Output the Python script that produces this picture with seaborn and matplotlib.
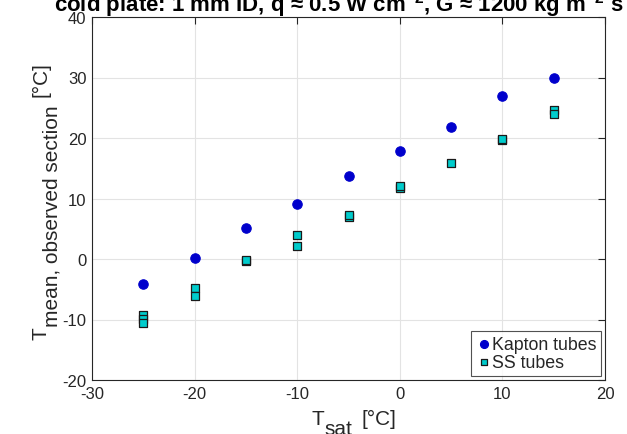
import numpy as np
import pandas as pd
import matplotlib
matplotlib.use("Agg")
import matplotlib.pyplot as plt
import seaborn as sns

kapton_tsat = [-25, -20, -15, -10, -5, 0, 5, 10, 15]
kapton_tmean = [-4.1, 0.2, 5.1, 9.1, 13.8, 17.9, 21.8, 26.9, 29.9]

ss_tsat = [-25, -25, -25, -20, -20, -15, -15, -10, -10, -5, -5, 0, 0, 5, 10, 10, 15, 15]
ss_tmean = [-9.3, -9.9, -10.5, -4.8, -6.1, -0.4, -0.1, 3.9, 2.2, 6.9, 7.2, 11.8, 12.0, 15.9, 19.6, 19.8, 24.6, 23.9]

xticks = [-30, -20, -10, 0, 10, 20]
yticks = [-20, -10, 0, 10, 20, 30, 40]

sns.set_style("white")
plt.rcParams['font.family'] = ['Liberation Sans', 'DejaVu Sans']
plt.rcParams['mathtext.fontset'] = 'custom'
plt.rcParams['mathtext.rm'] = 'Liberation Sans'
plt.rcParams['mathtext.it'] = 'Liberation Sans'
plt.rcParams['mathtext.bf'] = 'Liberation Sans:bold'
plt.rcParams['axes.unicode_minus'] = False

W, H = 627, 435
fig = plt.figure(figsize=(W / 100, H / 100), dpi=100)
ax = fig.add_axes([92 / W, 54 / H, 513 / W, 363 / H])

dk = pd.DataFrame({"x": kapton_tsat, "y": kapton_tmean})
ds = pd.DataFrame({"x": ss_tsat, "y": ss_tmean})

sns.scatterplot(data=dk, x="x", y="y", ax=ax, marker="o", s=46, color="#0000CC",
                edgecolor="#0000CC", linewidth=0.8, label="Kapton tubes", zorder=3)
sns.scatterplot(data=ds, x="x", y="y", ax=ax, marker="s", s=34, color="#00CCCC",
                edgecolor="#1a1a1a", linewidth=0.9, label="SS tubes", zorder=3)

ax.set_xlim(-30, 20)
ax.set_ylim(-20, 40)
ax.set_xticks(xticks)
ax.set_yticks(yticks)
ax.grid(True, color="#E3E3E3", linewidth=0.8)
ax.set_axisbelow(True)
for sp in ax.spines.values():
    sp.set_visible(True)
    sp.set_color("#262626")
    sp.set_linewidth(0.8)
ax.tick_params(direction="in", length=5, width=0.8, colors="#262626", labelsize=12,
               top=True, right=True, labeltop=False, labelright=False, pad=4)
ax.set_xlabel("")
ax.set_ylabel("")

ax.set_title(r"cold plate: 1 mm ID, q ≈ 0.5 W cm$^{\mathbf{-2}}$, G ≈ 1200 kg m$^{\mathbf{-2}}$ s$^{\mathbf{-1}}$",
             fontsize=16, fontweight="bold", color="black", pad=4.5)

leg = ax.legend(loc="lower right", fontsize=12.8, frameon=True, fancybox=False,
                edgecolor="#262626", handletextpad=0.0, borderpad=0.25,
                handlelength=0.9, borderaxespad=0.25, labelspacing=0.08,
                markerscale=0.85)
leg.get_frame().set_linewidth(0.8)

# axis labels with MATLAB-like large subscripts
fig.canvas.draw()
renderer = fig.canvas.get_renderer()
col = "#262626"
main_fs, sub_fs, sub_off, gap = 15, 15, 10, 9


def text_width(s, fs):
    t = fig.text(0, 0, s, fontsize=fs)
    w = t.get_window_extent(renderer).width
    t.remove()
    return w


def draw_label(pieces, cx, cy, vertical):
    widths = [text_width(s, fs) for s, fs, _ in pieces]
    total = sum(widths) + gap
    pos = (cy if vertical else cx) - total / 2
    for i, ((s, fs, off), w) in enumerate(zip(pieces, widths)):
        if i == len(pieces) - 1:
            pos += gap
        if vertical:
            fig.text((cx + off) / W, pos / H, s, fontsize=fs, color=col, rotation=90,
                     rotation_mode="anchor", ha="left", va="baseline")
        else:
            fig.text(pos / W, (cy - off) / H, s, fontsize=fs, color=col,
                     ha="left", va="baseline")
        pos += w


draw_label([("T", main_fs, 0), ("sat", sub_fs, sub_off), ("[°C]", main_fs, 0)],
           cx=354, cy=H - 425, vertical=False)
draw_label([("T", main_fs, 0), ("mean, observed section", sub_fs, sub_off), ("[°C]", main_fs, 0)],
           cx=47, cy=H - 201, vertical=True)

fig.savefig("out.png", dpi=100)
